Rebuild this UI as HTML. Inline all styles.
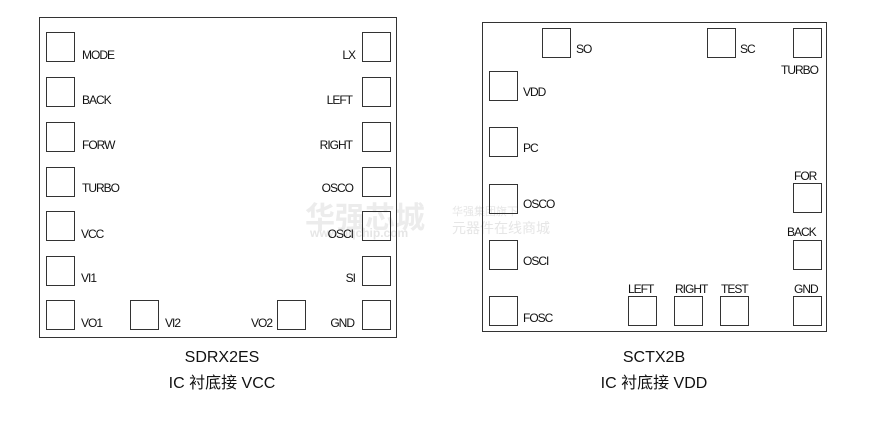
<!DOCTYPE html>
<html><head><meta charset="utf-8"><style>
body{margin:0;width:871px;height:438px;background:#fff;position:relative;overflow:hidden;font-family:"Liberation Sans","Noto Sans CJK SC",sans-serif;color:#111}
.b{position:absolute;border:1.5px solid #333;box-sizing:border-box}
.p{position:absolute;width:29px;height:30px;border:1.5px solid #333;box-sizing:border-box}
.t{position:absolute;font-size:12px;letter-spacing:-1px;line-height:14px;white-space:nowrap}
.r{text-align:right}
.c{position:absolute;font-size:16px;text-align:center;width:200px;line-height:20px}
.w{position:absolute;color:#ececec;font-weight:bold;white-space:nowrap}
</style></head><body>
<div class="w" style="left:305px;top:193px;font-size:30px">华强芯城</div>
<div class="w" style="left:310px;top:226px;font-size:12px;color:#e6e6e6">www.hqchip.com</div>
<div class="w" style="left:452px;top:203px;font-size:11px;color:#e6e6e6;font-weight:normal">华强集团旗下</div>
<div class="w" style="left:452px;top:218px;font-size:14px;color:#e6e6e6;font-weight:normal">元器件在线商城</div>

<div class="b" style="left:39px;top:17px;width:358px;height:321px"></div>
<div class="p" style="left:46px;top:32px"></div><div class="t" style="left:82px;top:48px">MODE</div>
<div class="p" style="left:46px;top:77px"></div><div class="t" style="left:82px;top:93px">BACK</div>
<div class="p" style="left:46px;top:122px"></div><div class="t" style="left:82px;top:138px">FORW</div>
<div class="p" style="left:46px;top:167px"></div><div class="t" style="left:82px;top:181px">TURBO</div>
<div class="p" style="left:46px;top:211px"></div><div class="t" style="left:81px;top:227px">VCC</div>
<div class="p" style="left:46px;top:256px"></div><div class="t" style="left:81px;top:271px">VI1</div>
<div class="p" style="left:46px;top:300px"></div><div class="t" style="left:81px;top:316px">VO1</div>
<div class="p" style="left:130px;top:300px"></div><div class="t" style="left:165px;top:316px">VI2</div>
<div class="p" style="left:277px;top:300px"></div><div class="t r" style="left:230px;width:42px;top:316px">VO2</div>
<div class="p" style="left:362px;top:32px"></div><div class="t r" style="left:300px;width:55px;top:48px">LX</div>
<div class="p" style="left:362px;top:77px"></div><div class="t r" style="left:300px;width:52px;top:93px">LEFT</div>
<div class="p" style="left:362px;top:122px"></div><div class="t r" style="left:300px;width:52px;top:138px">RIGHT</div>
<div class="p" style="left:362px;top:167px"></div><div class="t r" style="left:300px;width:53px;top:181px">OSCO</div>
<div class="p" style="left:362px;top:211px"></div><div class="t r" style="left:300px;width:53px;top:227px">OSCI</div>
<div class="p" style="left:362px;top:256px"></div><div class="t r" style="left:300px;width:55px;top:271px">SI</div>
<div class="p" style="left:362px;top:300px"></div><div class="t r" style="left:300px;width:54px;top:316px">GND</div>

<div class="b" style="left:482px;top:22px;width:345px;height:310px"></div>
<div class="p" style="left:542px;top:28px"></div><div class="t" style="left:576px;top:42px">SO</div>
<div class="p" style="left:707px;top:28px"></div><div class="t" style="left:740px;top:42px">SC</div>
<div class="p" style="left:793px;top:28px"></div><div class="t" style="left:781px;top:63px">TURBO</div>
<div class="p" style="left:489px;top:71px"></div><div class="t" style="left:523px;top:85px">VDD</div>
<div class="p" style="left:489px;top:127px"></div><div class="t" style="left:523px;top:141px">PC</div>
<div class="p" style="left:489px;top:184px"></div><div class="t" style="left:523px;top:197px">OSCO</div>
<div class="p" style="left:489px;top:240px"></div><div class="t" style="left:523px;top:254px">OSCI</div>
<div class="p" style="left:489px;top:296px"></div><div class="t" style="left:523px;top:311px">FOSC</div>
<div class="p" style="left:793px;top:183px"></div><div class="t" style="left:794px;top:169px">FOR</div>
<div class="p" style="left:793px;top:240px"></div><div class="t" style="left:787px;top:225px">BACK</div>
<div class="p" style="left:793px;top:296px"></div><div class="t" style="left:794px;top:282px">GND</div>
<div class="p" style="left:628px;top:296px"></div><div class="t" style="left:628px;top:282px">LEFT</div>
<div class="p" style="left:674px;top:296px"></div><div class="t" style="left:675px;top:282px">RIGHT</div>
<div class="p" style="left:720px;top:296px"></div><div class="t" style="left:721px;top:282px">TEST</div>

<div class="c" style="left:122px;top:348px">SDRX2ES</div>
<div class="c" style="left:122px;top:374px">IC 衬底接 VCC</div>
<div class="c" style="left:554px;top:348px">SCTX2B</div>
<div class="c" style="left:554px;top:374px">IC 衬底接 VDD</div>
</body></html>
